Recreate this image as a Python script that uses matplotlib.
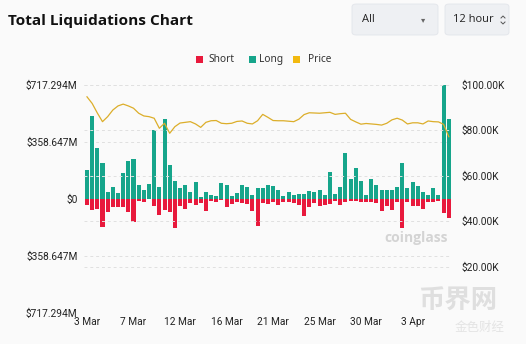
import matplotlib
matplotlib.use("Agg")
import matplotlib.pyplot as plt
import numpy as np
import pandas as pd
from matplotlib.patches import FancyBboxPatch, Rectangle
from matplotlib.lines import Line2D

# 12 hour buckets starting 3 Mar
dates = pd.date_range("2025-03-03", periods=71, freq="12h")

# long liquidations, $M
longs = [179, 521, 319, 225, 42, 73, 33, 158, 238, 246, 88, 52, 90, 434, 71, 500,
         211, 108, 67, 88, 38, 104, 10, 38, 21, 15, 96, 83, 17, 33, 83, 73, 21, 65,
         65, 83, 77, 54, 15, 38, 21, 31, 27, 46, 42, 56, 21, 167, 31, 73, 284, 121,
         192, 108, 21, 121, 88, 56, 54, 56, 73, 223, 69, 104, 81, 44, 23, 65, 25,
         717.294, 502]
# short liquidations, $M
shorts = [42, 73, 63, 179, 83, 52, 56, 52, 83, 146, 13, 25, 6, 46, 102, 73, 85,
          183, 48, 67, 29, 42, 29, 81, 17, 25, 10, 54, 35, 21, 29, 35, 77, 171, 31,
          33, 25, 42, 25, 21, 31, 38, 108, 56, 29, 46, 38, 33, 17, 42, 19, 17, 17,
          21, 19, 25, 29, 77, 50, 73, 25, 188, 21, 50, 48, 63, 21, 19, 13, 94, 125]
# BTC price, $K
price = [94.6, 91.7, 87.5, 83.7, 85.9, 88.8, 90.6, 91.4, 90.6, 89.6, 87.4, 86.2,
         85.9, 85.2, 80.8, 83.0, 78.6, 81.5, 83.1, 83.4, 83.7, 82.7, 81.2, 83.4,
         84.1, 84.2, 83.0, 82.8, 83.0, 83.8, 84.0, 83.0, 82.7, 84.1, 86.9, 85.6,
         84.2, 84.1, 84.1, 83.9, 83.7, 84.8, 86.8, 87.6, 87.5, 87.4, 87.6, 87.8,
         86.9, 87.2, 87.4, 84.7, 83.6, 82.6, 82.9, 82.7, 82.5, 82.2, 83.0, 84.5,
         85.2, 84.4, 82.7, 83.2, 83.2, 82.7, 84.0, 83.7, 83.6, 82.5, 77.1]

left_ticks = [-717.294, -358.647, 0, 358.647, 717.294]
left_labels = ["$717.294M", "$358.647M", "$0", "$358.647M", "$717.294M"]
right_ticks = [20, 40, 60, 80, 100]
right_labels = ["$%.2fK" % v for v in right_ticks]

long_color = "#16a58b"
short_color = "#e8193c"
price_color = "#dcae2a"
bg = "#fafafa"
W, H = 526, 344

fig = plt.figure(figsize=(W / 100, H / 100), dpi=100, facecolor=bg)

def fx(px):
    return px / W

def fy(py):
    return 1 - py / H

ax = fig.add_axes([fx(84.4), fy(312.5), fx(367), 228 / H])
ax.set_facecolor("none")
x = np.arange(len(dates))
ax.bar(x, longs, width=0.78, color=long_color, zorder=3)
ax.bar(x, [-s for s in shorts], width=0.78, color=short_color, zorder=3)
ax.set_xlim(-0.5, len(dates) - 0.5)
ax.set_ylim(-717.294, 717.294)
ax.set_yticks(left_ticks)
ax.set_yticklabels(left_labels)
ax.set_xticks(x[::9])
ax.set_xticklabels([d.strftime("%-d %b") for d in dates[::9]])
ax.tick_params(length=0, labelsize=7.3, colors="#222222", pad=5)
ax.tick_params(axis="x", pad=3)
for s in ax.spines.values():
    s.set_visible(False)
for t in left_ticks:
    if t != 0:
        ax.axhline(t, color="#e0e0e0", lw=0.7, ls=(0, (3, 3)), zorder=1)

ax2 = ax.twinx()
ax2.plot(x, price, color=price_color, lw=0.9, zorder=4)
ax2.set_ylim(0, 100)
ax2.set_yticks(right_ticks)
ax2.set_yticklabels(right_labels)
ax2.tick_params(length=0, labelsize=7.3, colors="#222222", pad=7)
for s in ax2.spines.values():
    s.set_visible(False)
for t in right_ticks:
    ax2.axhline(t, color="#e0e0e0", lw=0.7, ls=(0, (3, 3)), zorder=1)
for a in (ax, ax2):
    for lab in a.get_xticklabels() + a.get_yticklabels():
        lab.set_family("Roboto")

# title
fig.text(fx(8), fy(21), "Total Liquidations Chart", fontsize=11.1, fontweight="bold",
         family="Open Sans", va="center", ha="left", color="#111111")

# dropdowns
for x0, x1 in [(352, 438), (445, 509)]:
    fig.patches.append(FancyBboxPatch((fx(x0), fy(35)), fx(x1 - x0), 31 / H,
                                      boxstyle="round,pad=0,rounding_size=0.008",
                                      transform=fig.transFigure, facecolor="#eef0f3",
                                      edgecolor="#e2e5ea", lw=0.6))
fig.text(fx(362), fy(20), "All", fontsize=8, family="Open Sans", va="center", color="#222222")
fig.text(fx(423), fy(20), "▾", fontsize=6, va="center", ha="center", color="#666666")
fig.text(fx(453), fy(20), "12 hour", fontsize=8, family="Open Sans", va="center", color="#222222")
fig.add_artist(Line2D([fx(501), fx(503), fx(505)], [fy(18), fy(16), fy(18)],
                      transform=fig.transFigure, color="#555555", lw=0.7))
fig.add_artist(Line2D([fx(501), fx(503), fx(505)], [fy(22), fy(24), fy(22)],
                      transform=fig.transFigure, color="#555555", lw=0.7))

# legend
for sx, tx, c, name in [(196, 208, short_color, "Short"), (249, 259, long_color, "Long"),
                        (293, 308, "#f2b90f", "Price")]:
    fig.patches.append(Rectangle((fx(sx), fy(63)), fx(7), 7 / H, transform=fig.transFigure,
                                 facecolor=c, edgecolor="none"))
    fig.text(fx(tx), fy(59.5), name, fontsize=7.3, family="Noto Sans", va="center", color="#333333")

# watermarks
fig.text(fx(384), fy(238), "coinglass", fontsize=10, fontweight="bold", family="Open Sans",
         va="center", color="#d4d4d4")
fig.text(fx(458), fy(301), "币界网", fontsize=19, fontweight="bold", family="Noto Sans CJK SC",
         va="center", ha="center", color="#dcdcdc", alpha=0.9)
fig.text(fx(480), fy(327), "金色财经", fontsize=9, family="Noto Sans CJK SC",
         va="center", ha="center", color="#e4e4e4")

fig.savefig("out.png", dpi=100, facecolor=bg)
